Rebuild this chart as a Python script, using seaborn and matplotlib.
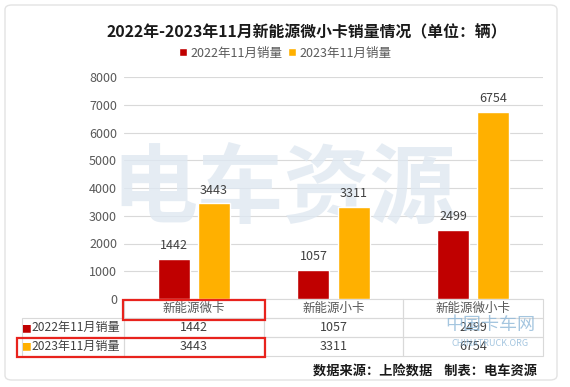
# 2022年-2023年11月新能源微小卡销量 柱状图 + 数据表

import matplotlib.pyplot as plt
import pandas as pd
import seaborn as sns
from matplotlib.patches import Rectangle, FancyBboxPatch

# 数据
categories = ['新能源微卡', '新能源小卡', '新能源微小卡']
series_names = ['2022年11月销量', '2023年11月销量']
sales_2022 = [1442, 1057, 2499]
sales_2023 = [3443, 3311, 6754]
y_ticks = [0, 1000, 2000, 3000, 4000, 5000, 6000, 7000, 8000]

colors = ['#C00000', '#FFB000']

df = pd.DataFrame({
    '车型': categories * 2,
    '年份': [series_names[0]] * 3 + [series_names[1]] * 3,
    '销量': sales_2022 + sales_2023,
})

sns.set_theme(style='whitegrid')
plt.rcParams['font.family'] = ['Noto Sans CJK SC', 'DejaVu Sans']

W, H = 570, 387
fig = plt.figure(figsize=(W / 100, H / 100), dpi=100)
fig.patch.set_facecolor('white')


def fx(px):
    return px / W


def fy(py):
    return 1 - py / H


# 外框（放在最底层）
card = FancyBboxPatch((fx(5), fy(380)), fx(552), 375 / H, boxstyle='round,pad=0,rounding_size=0.012',
                      transform=fig.transFigure, facecolor='white', edgecolor='#e3e3e3', lw=1.0, zorder=-5)
fig.patches.append(card)

ax = fig.add_axes([fx(124), fy(299), fx(543) - fx(124), (299 - 77) / H])
ax.set_facecolor('none')

p1 = sns.barplot(data=df, x='车型', y='销量', hue='年份', palette=colors, width=0.574, gap=0.2,
                 saturation=1, ax=ax, zorder=2)

for c in ax.containers:
    ax.bar_label(c, padding=5, fontsize=9, color='#404040')

ax.set_ylim(0, 8000)
ax.set_xlim(-0.5, 2.5)
ax.set_yticks(y_ticks)
ax.tick_params(axis='y', length=0, pad=5, labelsize=9, labelcolor='#595959')
ax.tick_params(axis='x', length=0, labelbottom=False)
ax.grid(axis='y', color='#d9d9d9', lw=0.8)
ax.grid(axis='x', visible=False)
for s in ax.spines.values():
    s.set_visible(False)
ax.set_xlabel('')
ax.set_ylabel('')

# 图例
sns.move_legend(ax, 'center', bbox_to_anchor=(fx(285), fy(53)), bbox_transform=fig.transFigure,
                ncol=2, frameon=False, title=None, fontsize=9, handlelength=0.65, handleheight=0.65,
                handletextpad=0.3, columnspacing=0.4)
for t in ax.get_legend().get_texts():
    t.set_color('#595959')

# 水印
ax.text(0.38, 0.49, '电车资源', transform=ax.transAxes, fontsize=62, fontweight='bold',
        color='#dfe8f1', alpha=0.8, ha='center', va='center', zorder=0.9)

# 数据表
cell_text = [[series_names[0]] + [str(v) for v in sales_2022],
             [series_names[1]] + [str(v) for v in sales_2023]]
x0 = (22 - 124) / 419
tb = ax.table(cellText=cell_text, colLabels=[''] + categories, cellLoc='center',
              colWidths=[102, 139.7, 139.7, 139.7],
              bbox=[x0, (299 - 356) / 222, 1 - x0, 57 / 222])
tb.auto_set_font_size(False)
tb.set_fontsize(9)
for (r, c), cell in tb.get_celld().items():
    cell.set_edgecolor('#d9d9d9')
    cell.set_linewidth(0.8)
    cell.set_facecolor('none')
    cell.get_text().set_color('#404040')
    if r == 0:
        cell.get_text().set_color('#595959')
    if c == 0:
        cell.get_text().set_ha('left')
        cell._loc = 'left'
        cell.PAD = 0.09
        cell.get_text().set_fontsize(8.7)
tb[0, 0].visible_edges = ''

# 行标签前的小方块
for i, col in enumerate(colors):
    fig.text(fx(31), fy(329 + i * 18.5), '■', color=col, fontsize=7, ha='right', va='center')

# 红色标注框
fig.patches.append(Rectangle((fx(123), fy(320)), 142 / W, 20 / H, transform=fig.transFigure,
                             fill=False, edgecolor='#e8231d', lw=1.6, zorder=5))
fig.patches.append(Rectangle((fx(17), fy(357)), 248 / W, 19 / H, transform=fig.transFigure,
                             fill=False, edgecolor='#e8231d', lw=1.6, zorder=5))

# 标题与来源
fig.text(fx(307), fy(32), '2022年-2023年11月新能源微小卡销量情况（单位：辆）', ha='center', va='center',
         fontsize=11.4, fontweight='bold', color='#1a1a1a')
fig.text(fx(537), fy(372), '数据来源：上险数据    制表：电车资源', ha='right', va='center',
         fontsize=9.5, fontweight='bold', color='#1a1a1a')

# 右下角水印
fig.text(fx(490), fy(325), '中国卡车网', ha='center', va='center', fontsize=13, color='#8fb8d8', alpha=0.8)
fig.text(fx(490), fy(343), 'CHINATRUCK.ORG', ha='center', va='center', fontsize=6.5, color='#8fb8d8', alpha=0.8)

fig.savefig('out.png', dpi=100)
